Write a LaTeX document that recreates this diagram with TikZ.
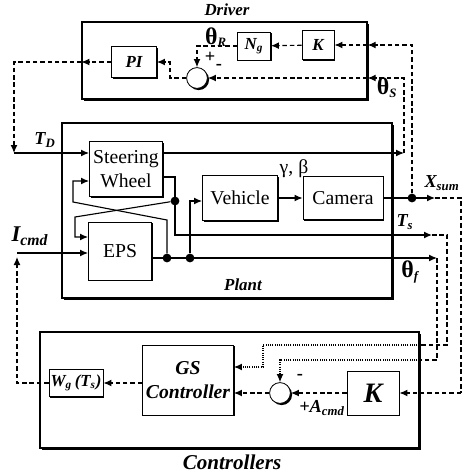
\documentclass[tikz,border=0pt]{standalone}
\usepackage{fontspec}
\setmainfont{Liberation Serif}
\usetikzlibrary{arrows.meta, positioning, shadows}

\newcommand{\thsym}{{\bfseries\upshape\fontsize{17}{18}\selectfont θ}}

\begin{document}
\begin{tikzpicture}[
  x=0.025cm, y=-0.025cm,
  frame/.style={draw, line width=0.9pt, fill=white,
                drop shadow={shadow xshift=1.5pt, shadow yshift=-1.5pt, fill=black, opacity=1}},
  blk/.style  ={draw, line width=0.6pt, fill=white, inner sep=0pt, align=center,
                font=\fontsize{14}{17}\selectfont,
                drop shadow={shadow xshift=1pt, shadow yshift=-1pt, fill=black, opacity=1}},
  gain/.style ={blk, font=\fontsize{12}{13}\selectfont\bfseries\itshape},
  sumj/.style ={draw, circle, line width=0.6pt, fill=white, inner sep=0pt, minimum size=0.52cm,
                drop shadow={shadow xshift=1.2pt, shadow yshift=-1.2pt, fill=black, opacity=1}},
  dot/.style  ={circle, fill, inner sep=0pt, minimum size=0.22cm},
  arr/.style  ={-{Latex[length=2mm, width=1.7mm]}, line width=0.8pt},
  dln/.style  ={line width=0.8pt, dash pattern=on 3.2pt off 2pt},
  darr/.style ={arr, dash pattern=on 3.2pt off 2pt},
  dtl/.style  ={dash pattern=on 0.8pt off 0.8pt},
  lbl/.style  ={font=\fontsize{13}{14}\selectfont\bfseries\itshape, inner sep=1pt},
]
\useasboundingbox (0,0) rectangle (463,475);

% frames
\node[frame, minimum width=7.125cm, minimum height=1.925cm] (drv)   at (224.5,60.5) {};
\node[frame, minimum width=8.25cm,  minimum height=4.375cm] (plant) at (227,210.5)  {};
\node[frame, minimum width=9.475cm, minimum height=2.9cm]   (ctrl)  at (229.5,390)  {};

\node[lbl, font=\fontsize{12}{13}\selectfont\bfseries\itshape] at (227,10)  {Driver};
\node[lbl, font=\fontsize{12}{13}\selectfont\bfseries\itshape] at (243,285) {Plant};
\node[lbl, font=\fontsize{15}{16}\selectfont\bfseries\itshape] at (232,462) {Controllers};

% driver
\node[gain, minimum width=1.125cm, minimum height=0.775cm] (pi) at (134,62) {PI};
\node[gain, minimum width=0.825cm, minimum height=0.7cm]   (ng) at (254,46) {N\textsubscript{g}};
\node[gain, minimum width=0.8cm,   minimum height=0.725cm] (kd) at (318,45) {K};
\node[sumj] (s1) at (197,78) {};

% plant
\node[blk, minimum width=1.825cm, minimum height=1.375cm] (sw)  at (126,169) {Steering\\Wheel};
\node[blk, minimum width=1.575cm, minimum height=1.45cm]  (eps) at (120,251) {EPS};
\node[blk, minimum width=1.875cm, minimum height=1.125cm] (veh) at (240,198) {Vehicle};
\node[blk, minimum width=2.0cm,   minimum height=1.075cm] (cam) at (343,198) {Camera};

\node[dot] (da) at (175,201) {};
\node[dot] (db) at (167,258) {};
\node[dot] (dc) at (190,258) {};
\node[dot] (dx) at (412,198) {};

% controllers
\node[blk, minimum width=1.35cm, minimum height=0.675cm,
      font=\fontsize{12}{13}\selectfont\bfseries\itshape] (wg) at (76,383) {W\textsubscript{g}\,(T\textsubscript{s})};
\node[gain, minimum width=2.275cm, minimum height=1.75cm,
      font=\fontsize{14}{17}\selectfont\bfseries\itshape] (gs) at (188,380) {GS\\Controller};
\node[gain, minimum width=1.3cm, minimum height=1.1cm,
      font=\fontsize{20}{21}\selectfont\bfseries\itshape] (kc) at (373,393) {K};
\node[sumj] (s2) at (280,393) {};

% bend points
\coordinate (tdc)  at (14,62);
\coordinate (tdin) at (14,153);
\coordinate (pic)  at (170,78);
\coordinate (thse) at (404,153);
\coordinate (thsc) at (404,78);
\coordinate (xup)  at (412,45);
\coordinate (xse)  at (435,198);
\coordinate (xsc)  at (461,198);
\coordinate (xsd)  at (461,393);
\coordinate (tsa)  at (175,177);
\coordinate (tse)  at (432,235);
\coordinate (tsc)  at (447,235);
\coordinate (tsd)  at (447,345);
\coordinate (tsg)  at (263,367);
\coordinate (thfe) at (437,258);
\coordinate (thfd) at (437,360);
\coordinate (xa1)  at (75,217);
\coordinate (xa2)  at (75,237);
\coordinate (xb1)  at (167,220);
\coordinate (xb2)  at (73,202);
\coordinate (swin) at (73,181);
\coordinate (icmd) at (17,253);
\coordinate (icd)  at (17,383);
\coordinate (icu)  at (17,257);

% driver loop
\draw[darr] (kd) -- (ng);
\draw[darr] (ng.west) -| (s1.north);
\draw[darr] (s1.west) -- (pic) |- (pi.east);
\draw[darr] (pi.west) -- (drv.west |- pi.west);
\draw[darr] (drv.west |- pi.west) -- (tdc) -- (tdin);
\draw[arr] (tdin) -- (sw.west |- tdin);

% plant signals
\draw[arr] (sw.east |- thse) -- (thse);
\draw[darr] (thse) -- (thsc) -- (drv.east |- thsc);
\draw[darr] (drv.east |- thsc) -- (s1.east);
\draw[arr] (sw.east |- tsa) -- (tsa) |- (tse);
\draw[arr] (da) -- (xa1) -- (xa2) -- (eps.west |- xa2);
\draw[arr] (db) -- (xb1) -- (xb2) |- (sw.west |- swin);
\draw[arr] (eps.east |- thfe) -- (thfe);
\draw[arr] (dc) |- (veh.west |- da);
\draw[arr] (veh) -- (cam);
\draw[arr] (cam.east |- dx) -- (xse);
\draw[darr] (dx) -- (xup) -- (drv.east |- xup);
\draw[darr] (drv.east |- xup) -- (kd.east);
\draw[arr] (icmd) -- (eps.west |- icmd);

% feedback to controllers
\draw[dln] (xse) -- (xsc) -- (xsd);
\draw[darr] (xsd) -- (kc.east);
\draw[dln] (tse) -- (tsc) -- (tsd) -- (ctrl.east |- tsd);
\draw[arr, dtl] (ctrl.east |- tsd) -| (tsg) -- (gs.east |- tsg);
\draw[dln] (thfe) -- (thfd) -- (ctrl.east |- thfd);
\draw[arr, dtl] (ctrl.east |- thfd) -| (s2.north);
\draw[darr] (kc) -- (s2);
\draw[darr] (s2.west) -- (gs.east |- s2.west);
\draw[darr] (gs.west |- wg) -- (wg.east);
\draw[darr] (wg.west) -- (icd) -- (icu);

% labels
\node[lbl] at (216,37) {\thsym\textsubscript{R}};
\node[lbl, font=\fontsize{13}{14}\selectfont\bfseries] at (210,57) {+};
\node[lbl, font=\fontsize{13}{14}\selectfont\bfseries] at (219,67) {-};
\node[lbl] at (387,88) {\thsym\textsubscript{S}};
\node[lbl] at (45,140) {T\textsubscript{D}};
\node[lbl, font=\fontsize{16}{17}\selectfont\bfseries\itshape, anchor=west] at (10,236) {I\textsubscript{cmd}};
\node[font=\fontsize{14}{15}\selectfont, inner sep=1pt] at (294,169) {γ, β};
\node[lbl] at (442,183) {X\textsubscript{sum}};
\node[lbl] at (405,222) {T\textsubscript{s}};
\node[lbl] at (410,272) {\thsym\textsubscript{f}};
\node[lbl, font=\fontsize{13}{14}\selectfont\bfseries] at (300,377) {-};
\node[lbl] at (322,408) {+A\textsubscript{cmd}};
\end{tikzpicture}
\end{document}
